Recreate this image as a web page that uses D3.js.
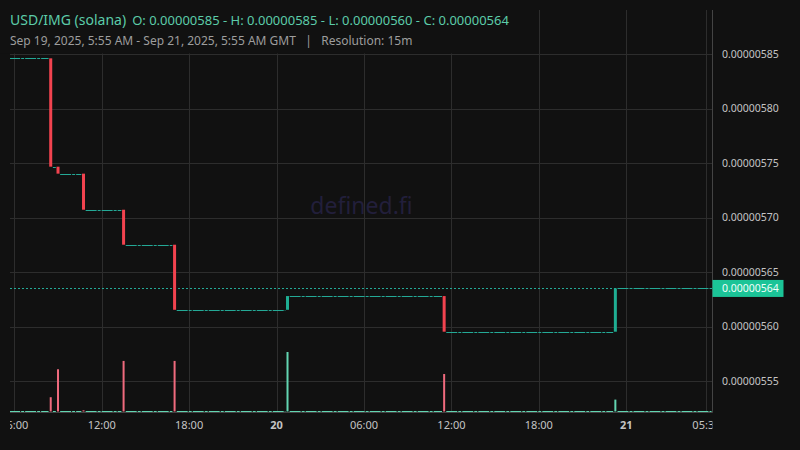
<!DOCTYPE html>
<html lang="en">
<head>
<meta charset="utf-8" />
<title>USD/IMG (solana)</title>
<style>
  html, body { margin: 0; padding: 0; background: #111111; }
  svg { display: block; font-family: "Noto Sans", sans-serif; }
</style>
</head>
<body>
<script src="https://d3js.org/d3.v7.min.js"></script>
<div id="chart"></div>
<script>
    // prices are in units of 1e-6 USD
    // candles that actually moved
    const candleTimes = ["2025-09-19T08:30Z", "2025-09-19T09:00Z", "2025-09-19T10:45Z", "2025-09-19T13:30Z",
                         "2025-09-19T17:00Z", "2025-09-20T00:45Z", "2025-09-20T11:30Z", "2025-09-20T23:15Z"];
    const opens   = [5.8463, 5.7469, 5.7405, 5.7074, 5.6753, 5.6156, 5.6282, 5.5955];
    const closes  = [5.7469, 5.7405, 5.7074, 5.6753, 5.6156, 5.6282, 5.5955, 5.6352];
    const volumes = [24, 71, 2, 85, 85, 100, 63, 20];

    // flat stretches (open = high = low = close, no volume)
    const flatStart = ["2025-09-19T05:45Z", "2025-09-19T08:45Z", "2025-09-19T09:15Z", "2025-09-19T11:00Z", "2025-09-19T13:45Z",
                       "2025-09-19T17:15Z", "2025-09-20T01:00Z", "2025-09-20T11:45Z", "2025-09-20T23:30Z"];
    const flatEnd   = ["2025-09-19T08:15Z", "2025-09-19T08:45Z", "2025-09-19T10:30Z", "2025-09-19T13:15Z", "2025-09-19T16:45Z",
                       "2025-09-20T00:30Z", "2025-09-20T11:15Z", "2025-09-20T23:00Z", "2025-09-21T05:45Z"];
    const flatPrice = [5.8463, 5.7469, 5.7405, 5.7074, 5.6753, 5.6156, 5.6282, 5.5955, 5.6352];

    const priceTicks = [5.55, 5.60, 5.65, 5.70, 5.75, 5.80, 5.85];
    const timeTicks = ["2025-09-19T06:00Z", "2025-09-19T12:00Z", "2025-09-19T18:00Z", "2025-09-20T00:00Z",
                       "2025-09-20T06:00Z", "2025-09-20T12:00Z", "2025-09-20T18:00Z", "2025-09-21T00:00Z", "2025-09-21T05:30Z"];

    const title = "USD/IMG (solana)";
    const subtitle = "Sep 19, 2025, 5:55 AM - Sep 21, 2025, 5:55 AM GMT   |   Resolution: 15m";

    const W = 800, H = 450;
    const plot = {left: 10, right: 712.5, top: 10, bottom: 412};

    const red = "#f2434f", green = "#1fae93", flatCol = "#24a996";
    const volRed = "#ef6a7d", volGreen = "#62d5b1";
    const fmt = v => (v * 1e-6).toFixed(8);

    const svg = d3.select("#chart").append("svg")
        .attr("width", W).attr("height", H)
        .style("background", "#111111");

    const x = d3.scaleUtc()
        .domain([new Date("2025-09-19T05:42:18Z"), new Date("2025-09-21T05:55:00Z")])
        .range([plot.left, plot.right]);
    const y = d3.scaleLinear().domain([5.55, 5.85]).range([381.3, 54.3]);
    const yVol = d3.scaleLinear().domain([0, d3.max(volumes)]).range([411.5, 352]);

    svg.append("clipPath").attr("id", "clip")
        .append("rect").attr("x", plot.left).attr("y", 0)
        .attr("width", plot.right - plot.left).attr("height", H);

    // grid
    const grid = svg.append("g");
    grid.selectAll("line.h").data(priceTicks).join("line")
        .attr("x1", plot.left).attr("x2", plot.right)
        .attr("y1", d => Math.round(y(d)) + 0.5).attr("y2", d => Math.round(y(d)) + 0.5)
        .attr("stroke", "#2d2d2d");
    grid.selectAll("line.v").data(timeTicks).join("line")
        .attr("x1", d => Math.round(x(new Date(d))) + 0.5).attr("x2", d => Math.round(x(new Date(d))) + 0.5)
        .attr("y1", plot.top).attr("y2", plot.bottom)
        .attr("stroke", "#2d2d2d");

    // watermark
    svg.append("text")
        .attr("x", 361.5).attr("y", 214)
        .attr("text-anchor", "middle")
        .style("font-size", "23px")
        .style("fill", "#221f3b")
        .text("defined.fi");

    const marks = svg.append("g").attr("clip-path", "url(#clip)");

    const flats = flatStart.map((s, i) => ({s: new Date(s), e: new Date(flatEnd[i]), p: flatPrice[i]}));
    const candles = candleTimes.map((t, i) => ({t: new Date(t), o: opens[i], c: closes[i], v: volumes[i]}));

    // flat stretches look like a dashed line of 1px candles
    marks.selectAll("line.flat").data(flats).join("line")
        .attr("x1", d => x(d.s) - 1.5).attr("x2", d => x(d.e) + 1.5)
        .attr("y1", d => Math.round(y(d.p)) + 0.5).attr("y2", d => Math.round(y(d.p)) + 0.5)
        .attr("stroke", flatCol).attr("stroke-dasharray", "11,1,3,1");
    // and the matching empty volume
    marks.selectAll("line.fvol").data(flats).join("line")
        .attr("x1", d => x(d.s) - 1.5).attr("x2", d => x(d.e) + 1.5)
        .attr("y1", Math.round(yVol(0)) - 0.5).attr("y2", Math.round(yVol(0)) - 0.5)
        .attr("stroke", volGreen).attr("stroke-dasharray", "11,1,3,1");

    // last price dotted line
    const last = closes[closes.length - 1];
    marks.append("line")
        .attr("x1", plot.left).attr("x2", plot.right)
        .attr("y1", Math.round(y(last)) + 0.5).attr("y2", Math.round(y(last)) + 0.5)
        .attr("stroke", flatCol).attr("stroke-dasharray", "2,2");

    // volume bars
    marks.selectAll("rect.vol").data(candles).join("rect")
        .attr("x", d => x(d.t) - 1).attr("width", 2)
        .attr("y", d => yVol(d.v))
        .attr("height", d => Math.max(1, yVol(0) - yVol(d.v)))
        .attr("fill", d => d.c >= d.o ? volGreen : volRed);

    // candle bodies
    marks.selectAll("rect.body").data(candles).join("rect")
        .attr("x", d => x(d.t) - 1.5).attr("width", 3)
        .attr("y", d => y(Math.max(d.o, d.c)))
        .attr("height", d => Math.max(1, Math.abs(y(d.o) - y(d.c))))
        .attr("fill", d => d.c >= d.o ? green : red);

    // plot border on the right / bottom
    svg.append("line").attr("x1", plot.right).attr("x2", plot.right)
        .attr("y1", plot.top).attr("y2", plot.bottom + 0.5).attr("stroke", "#444");
    svg.append("line").attr("x1", plot.left).attr("x2", plot.right)
        .attr("y1", plot.bottom + 0.5).attr("y2", plot.bottom + 0.5).attr("stroke", "#444");

    // price axis labels
    svg.append("g").selectAll("text").data(priceTicks).join("text")
        .attr("x", 722).attr("y", d => y(d))
        .attr("dy", "0.35em")
        .style("font-size", "10.5px").style("fill", "#c4c4c4")
        .text(d => fmt(d));

    // last price tag
    svg.append("rect")
        .attr("x", plot.right).attr("y", y(last) - 8.5)
        .attr("width", 71).attr("height", 17)
        .attr("fill", "#1bc497");
    svg.append("text")
        .attr("x", 722).attr("y", y(last)).attr("dy", "0.35em")
        .style("font-size", "10.5px").style("fill", "#f2fffb")
        .text(fmt(last));

    // time axis labels
    const timeFmt = d3.utcFormat("%H:%M");
    svg.append("g").attr("clip-path", "url(#clip)")
        .selectAll("text").data(timeTicks).join("text")
        .attr("x", d => x(new Date(d)))
        .attr("y", 425).attr("dy", "0.35em")
        .attr("text-anchor", "middle")
        .style("font-size", "11px")
        .style("fill", "#c4c4c4")
        .style("font-weight", d => new Date(d).getUTCHours() === 0 && new Date(d).getUTCMinutes() === 0 ? "bold" : "normal")
        .text(d => {
            const t = new Date(d);
            return t.getUTCHours() === 0 && t.getUTCMinutes() === 0 ? t.getUTCDate() : timeFmt(t);
        });

    // header
    const allPrices = flatPrice.concat(opens, closes);
    const ohlc = `O: ${fmt(flatPrice[0])} - H: ${fmt(d3.max(allPrices))} - L: ${fmt(d3.min(allPrices))} - C: ${fmt(last)}`;
    svg.append("rect").attr("x", 0).attr("y", 0).attr("width", 500).attr("height", 53.5).attr("fill", "#111111");
    const head = svg.append("text").attr("x", 10).attr("y", 25).style("fill", "#5ccca9");
    head.append("tspan").style("font-size", "14px").text(title);
    head.append("tspan").attr("dx", 6).style("font-size", "13px").text(ohlc);
    svg.append("text")
        .attr("x", 10).attr("y", 45)
        .style("font-size", "12px").style("fill", "#9d9d9d")
        .attr("xml:space", "preserve")
        .style("white-space", "pre")
        .text(subtitle);
</script>
</body>
</html>
